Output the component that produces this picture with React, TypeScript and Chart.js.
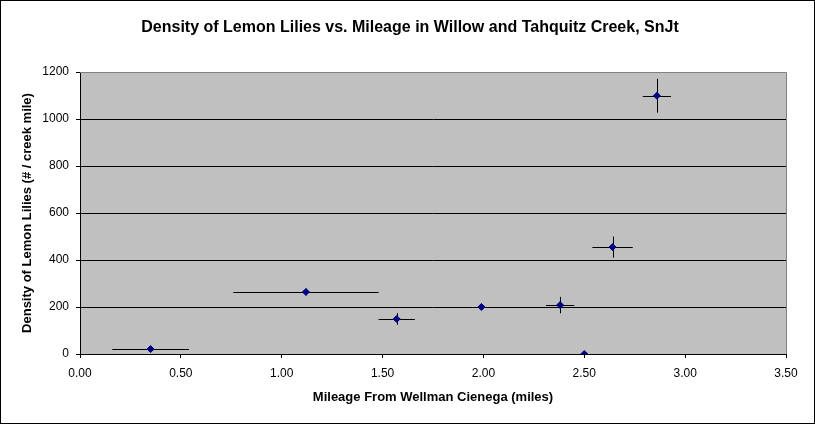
import { useEffect, useRef } from 'react';
import { Chart, registerables, Plugin } from 'chart.js';

Chart.register(...registerables);

const mileage = [0.35, 1.12, 1.57, 1.99, 2.38, 2.5, 2.64, 2.86];
const density = [21, 264, 149, 200, 208, 0, 455, 1099];
const mileageErr = [0.19, 0.36, 0.09, 0, 0.07, 0, 0.1, 0.07];
const densityErr = [6, 14, 25, 7, 35, 0, 45, 72];

const chartTitle = 'Density of Lemon Lilies vs. Mileage in Willow and Tahquitz Creek, SnJt';
const xTitle = 'Mileage From Wellman Cienega (miles)';
const yTitle = 'Density of Lemon Lilies (# / creek mile)';

const family = 'Arial, "Liberation Sans", sans-serif';

// grey plot area, grey top/right frame, and the chart title centred on the whole canvas
const plotFrame: Plugin<'scatter'> = {
  id: 'plotFrame',
  beforeDraw(chart) {
    const { ctx, chartArea: a } = chart;
    ctx.save();
    ctx.fillStyle = '#C0C0C0';
    ctx.fillRect(a.left, a.top, a.right - a.left, a.bottom - a.top);
    ctx.restore();
  },
  afterDraw(chart) {
    const { ctx, chartArea: a } = chart;
    ctx.save();
    ctx.strokeStyle = '#808080';
    ctx.lineWidth = 1;
    ctx.beginPath();
    ctx.moveTo(a.left, Math.round(a.top) + 0.5);
    ctx.lineTo(Math.round(a.right) + 0.5, Math.round(a.top) + 0.5);
    ctx.lineTo(Math.round(a.right) + 0.5, a.bottom);
    ctx.stroke();

    ctx.fillStyle = '#000';
    ctx.font = `bold 16px ${family}`;
    ctx.textAlign = 'center';
    ctx.textBaseline = 'middle';
    ctx.fillText(chartTitle, 409, 27);
    ctx.restore();
  },
};

// x and y error bars, no caps
const errorBars: Plugin<'scatter'> = {
  id: 'errorBars',
  beforeDatasetsDraw(chart) {
    const { ctx, scales } = chart;
    const x = scales.x;
    const y = scales.y;
    ctx.save();
    ctx.strokeStyle = '#000';
    ctx.lineWidth = 1;
    mileage.forEach((m, i) => {
      const px = x.getPixelForValue(m);
      const py = y.getPixelForValue(density[i]);
      ctx.beginPath();
      if (mileageErr[i] > 0) {
        const yy = Math.round(py) + 0.5;
        ctx.moveTo(x.getPixelForValue(m - mileageErr[i]), yy);
        ctx.lineTo(x.getPixelForValue(m + mileageErr[i]), yy);
      }
      if (densityErr[i] > 0) {
        const xx = Math.round(px) + 0.5;
        ctx.moveTo(xx, y.getPixelForValue(density[i] - densityErr[i]));
        ctx.lineTo(xx, y.getPixelForValue(density[i] + densityErr[i]));
      }
      ctx.stroke();
    });
    ctx.restore();
  },
};

export default function App() {
  const canvasRef = useRef<HTMLCanvasElement>(null);
  const chartRef = useRef<Chart<'scatter'> | null>(null);

  useEffect(() => {
    document.body.style.margin = '0';
    if (!canvasRef.current) return;
    if (chartRef.current) chartRef.current.destroy();

    const tickFont = { family, size: 12 };
    const boldFont = { family, size: 13, weight: 'bold' as const };

    chartRef.current = new Chart(canvasRef.current, {
      type: 'scatter',
      data: {
        datasets: [
          {
            label: 'Density',
            data: mileage.map((m, i) => ({ x: m, y: density[i] })),
            pointStyle: 'rectRot',
            pointRadius: 3.5,
            backgroundColor: '#000080',
            borderColor: '#000080',
            borderWidth: 1,
          },
        ],
      },
      options: {
        responsive: false,
        animation: false,
        layout: { padding: { left: 0, right: 28, top: 71, bottom: 0 } },
        scales: {
          x: {
            type: 'linear',
            min: 0,
            max: 3.5,
            afterFit(scale) {
              scale.height = 69;
            },
            ticks: {
              stepSize: 0.5,
              color: '#000',
              font: tickFont,
              padding: 8,
              maxRotation: 0,
              callback: (v) => Number(v).toFixed(2),
            },
            grid: { drawOnChartArea: false, drawTicks: true, tickLength: 4, tickColor: '#000' },
            border: { color: '#000', width: 1 },
            title: {
              display: true,
              text: xTitle,
              color: '#000',
              font: boldFont,
              padding: { top: 0, bottom: 18 },
            },
          },
          y: {
            type: 'linear',
            min: 0,
            max: 1200,
            afterFit(scale) {
              scale.width = 79;
            },
            ticks: {
              stepSize: 200,
              color: '#000',
              font: tickFont,
              padding: 7,
              callback: (v) => String(v),
            },
            grid: {
              color: (c) => (c.tick && c.tick.value === 1200 ? '#808080' : '#000'),
              tickColor: '#000',
              tickLength: 4,
              lineWidth: 1,
            },
            border: { color: '#000', width: 1 },
            title: {
              display: true,
              text: yTitle,
              color: '#000',
              font: boldFont,
              padding: { top: 19, bottom: 0 },
            },
          },
        },
        plugins: {
          legend: { display: false },
          tooltip: { enabled: false },
          title: { display: false },
        },
      },
      plugins: [plotFrame, errorBars],
    });

    return () => {
      if (chartRef.current) {
        chartRef.current.destroy();
        chartRef.current = null;
      }
    };
  }, []);

  return (
    <div
      style={{
        width: 815,
        height: 424,
        border: '1px solid #000',
        boxSizing: 'border-box',
        background: '#fff',
      }}
    >
      <canvas ref={canvasRef} width={813} height={422} style={{ display: 'block' }}></canvas>
    </div>
  );
}
